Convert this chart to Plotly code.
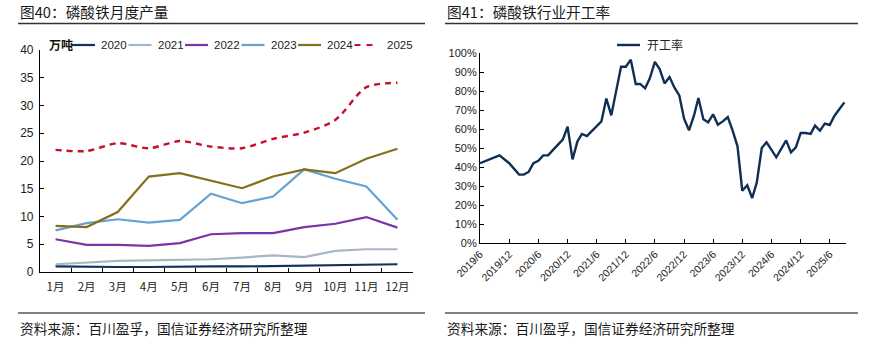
import plotly.graph_objects as go
import pandas as pd

# ---------------- data: left chart (万吨) ----------------
months_cat = ["1月", "2月", "3月", "4月", "5月", "6月", "7月", "8月", "9月", "10月", "11月", "12月"]
y2020 = [1.0, 0.9, 0.9, 0.9, 1.0, 1.0, 1.0, 1.1, 1.1, 1.2, 1.3, 1.4]
y2021 = [1.4, 1.7, 2.0, 2.1, 2.2, 2.3, 2.6, 3.0, 2.7, 3.8, 4.1, 4.1]
y2022 = [5.9, 4.9, 4.9, 4.7, 5.2, 6.8, 7.0, 7.0, 8.1, 8.7, 9.9, 8.0]
y2023 = [7.5, 8.8, 9.5, 8.9, 9.4, 14.1, 12.4, 13.6, 18.5, 16.8, 15.4, 9.4]
y2024 = [8.3, 8.1, 10.8, 17.2, 17.8, 16.4, 15.1, 17.2, 18.5, 17.8, 20.4, 22.2]
y2025 = [22.0, 21.8, 23.2, 22.3, 23.6, 22.6, 22.3, 24.0, 25.1, 27.4, 33.3, 34.1]
series_names = ["2020", "2021", "2022", "2023", "2024", "2025"]

# ---------------- data: right chart (开工率) ----------------
rate_months = [
    "2019-06", "2019-10", "2019-12", "2020-02", "2020-03", "2020-04", "2020-05", "2020-06",
    "2020-07", "2020-08", "2020-09", "2020-10", "2020-11", "2020-12", "2021-01", "2021-02",
    "2021-03", "2021-04", "2021-05", "2021-06", "2021-07", "2021-08", "2021-09", "2021-10",
    "2021-11", "2021-12", "2022-01", "2022-02", "2022-03", "2022-04", "2022-05", "2022-06",
    "2022-07", "2022-08", "2022-09", "2022-10", "2022-11", "2022-12", "2023-01", "2023-02",
    "2023-03", "2023-04", "2023-05", "2023-06", "2023-07", "2023-08", "2023-09", "2023-10",
    "2023-11", "2023-12", "2024-01", "2024-02", "2024-03", "2024-04", "2024-05", "2024-06",
    "2024-07", "2024-08", "2024-09", "2024-10", "2024-11", "2024-12", "2025-01", "2025-02",
    "2025-03", "2025-04", "2025-05", "2025-06", "2025-07", "2025-08", "2025-09",
]
rate_values = [
    42.0, 46.1, 42.0, 36.0, 36.0, 37.4, 42.0, 43.3,
    46.1, 46.1, 49.0, 51.4, 54.4, 61.2, 44.0, 53.5,
    57.4, 56.3, 58.8, 61.6, 64.0, 76.0, 67.2, 79.8,
    92.8, 92.8, 96.5, 83.7, 83.7, 81.4, 86.8, 95.3,
    91.5, 84.0, 87.4, 81.9, 77.7, 65.4, 59.3, 67.0,
    76.3, 65.1, 63.5, 67.7, 62.3, 64.0, 66.3, 59.3,
    50.9, 27.5, 30.4, 23.7, 31.9, 50.0, 53.0, 49.0,
    45.1, 49.5, 54.0, 47.7, 50.4, 57.9, 57.9, 57.4,
    61.8, 59.1, 62.8, 62.1, 67.0, 70.5, 74.0,
]
rate_tick_months = ["2019-06", "2019-12", "2020-06", "2020-12", "2021-06", "2021-12", "2022-06",
                    "2022-12", "2023-06", "2023-12", "2024-06", "2024-12", "2025-06"]
rate_tick_labels = ["2019/6", "2019/12", "2020/6", "2020/12", "2021/6", "2021/12", "2022/6",
                    "2022/12", "2023/6", "2023/12", "2024/6", "2024/12", "2025/6"]

# ---------------- styling ----------------
W, H = 870, 343
FONT = "Liberation Sans, Arial, Noto Sans CJK SC"
CJK = "Noto Sans CJK SC, Liberation Sans"
colors = ["#13325a", "#a9b6c6", "#7a35a5", "#64a2d4", "#84701c", "#c8102e"]

def px(x):
    return x / W

def py(y):
    return 1 - y / H

fig = go.Figure()

left_series = [y2020, y2021, y2022, y2023, y2024, y2025]
for name, vals, col in zip(series_names, left_series, colors):
    is25 = name == "2025"
    fig.add_trace(go.Scatter(
        x=months_cat, y=vals, name=name, mode="lines",
        line=dict(color=col, width=2.2 if not is25 else 2.4,
                  dash="6px,5px" if is25 else "solid",
                  shape="spline" if is25 else "linear", smoothing=0.8),
        xaxis="x", yaxis="y", showlegend=False,
    ))

rate_dates = pd.to_datetime(rate_months) + pd.Timedelta(days=13)
fig.add_trace(go.Scatter(
    x=rate_dates, y=[v / 100 for v in rate_values], name="开工率", mode="lines",
    line=dict(color="#0f2f55", width=2.4),
    xaxis="x2", yaxis="y2", showlegend=False,
))

tick_dates = pd.to_datetime(rate_tick_months) + pd.Timedelta(days=13)

axis_common = dict(showgrid=False, zeroline=False, showline=True, linecolor="#000",
                   linewidth=1.2, ticks="inside", ticklen=4, tickcolor="#000", tickwidth=1.2,
                   automargin=False)

fig.update_layout(
    width=W, height=H,
    margin=dict(l=0, r=0, t=0, b=0),
    paper_bgcolor="white", plot_bgcolor="white",
    font=dict(family=FONT, color="#222"),
    xaxis=dict(domain=[px(40), px(413)], type="category", range=[-0.5, 11.5],
               tickson="boundaries", tickangle=0, ticklabelstandoff=4,
               tickfont=dict(size=11.5, family=CJK, color="#222"),
               anchor="y", **axis_common),
    yaxis=dict(domain=[py(272), py(50)], range=[0, 40], tickvals=list(range(0, 41, 5)),
               ticklabelstandoff=3,
               tickfont=dict(size=12, color="#222"), anchor="x", **axis_common),
    xaxis2=dict(domain=[px(480), px(846)], type="date",
                range=[rate_dates[0], rate_dates[-1] + pd.Timedelta(days=10)],
                tickvals=tick_dates, ticktext=rate_tick_labels, tickangle=-45,
                tickfont=dict(size=10.5, color="#222"), anchor="y2", **axis_common),
    yaxis2=dict(domain=[py(243), py(53)], range=[0, 1], dtick=0.1, tickformat=".0%",
                tickfont=dict(size=11, color="#222"), anchor="x2", **axis_common),
)

shapes = []
annotations = []

# titles, rules and sources
for x0, x1, title in [(18, 425, "图40：磷酸铁月度产量"), (445, 858, "图41：磷酸铁行业开工率")]:
    annotations.append(dict(xref="paper", yref="paper", x=px(x0), y=py(12), xanchor="left",
                            yanchor="middle", text=title, showarrow=False,
                            font=dict(family=CJK, size=14.7, color="#1a1a1a")))
    shapes.append(dict(type="line", xref="paper", yref="paper", x0=px(x0), x1=px(x1),
                       y0=py(23.5), y1=py(23.5), line=dict(color="#333", width=1.5)))
    shapes.append(dict(type="line", xref="paper", yref="paper", x0=px(x0), x1=px(x1),
                       y0=py(313), y1=py(313), line=dict(color="#555", width=1.5)))
    annotations.append(dict(xref="paper", yref="paper", x=px(x0), y=py(328), xanchor="left",
                            yanchor="middle", text="资料来源：百川盈孚，国信证券经济研究所整理",
                            showarrow=False, font=dict(family=CJK, size=13.7, color="#1a1a1a")))

# unit label
annotations.append(dict(xref="paper", yref="paper", x=px(47), y=py(44), xanchor="left",
                        yanchor="middle", text="<b>万吨</b>", showarrow=False,
                        font=dict(family=CJK, size=12, color="#111")))

# left legend (drawn manually to match compact spacing)
leg_start = 72
for i, (name, col) in enumerate(zip(series_names, colors)):
    x0 = leg_start + i * 56.5
    is25 = name == "2025"
    shapes.append(dict(type="line", xref="paper", yref="paper", x0=px(x0), x1=px(x0 + 23),
                       y0=py(45), y1=py(45),
                       line=dict(color=col, width=2.2, dash="6px,6px" if is25 else "solid")))
    annotations.append(dict(xref="paper", yref="paper", x=px(x0 + (30 if is25 else 27)), y=py(45),
                            xanchor="left", yanchor="middle", text=name, showarrow=False,
                            font=dict(family=FONT, size=11.5, color="#222")))

# right legend
shapes.append(dict(type="line", xref="paper", yref="paper", x0=px(617), x1=px(640),
                   y0=py(45), y1=py(45), line=dict(color="#0f2f55", width=2.4)))
annotations.append(dict(xref="paper", yref="paper", x=px(645), y=py(45), xanchor="left",
                        yanchor="middle", text="开工率", showarrow=False,
                        font=dict(family=CJK, size=12, color="#222")))

fig.update_layout(shapes=shapes, annotations=annotations)
fig.write_html("out.html")
